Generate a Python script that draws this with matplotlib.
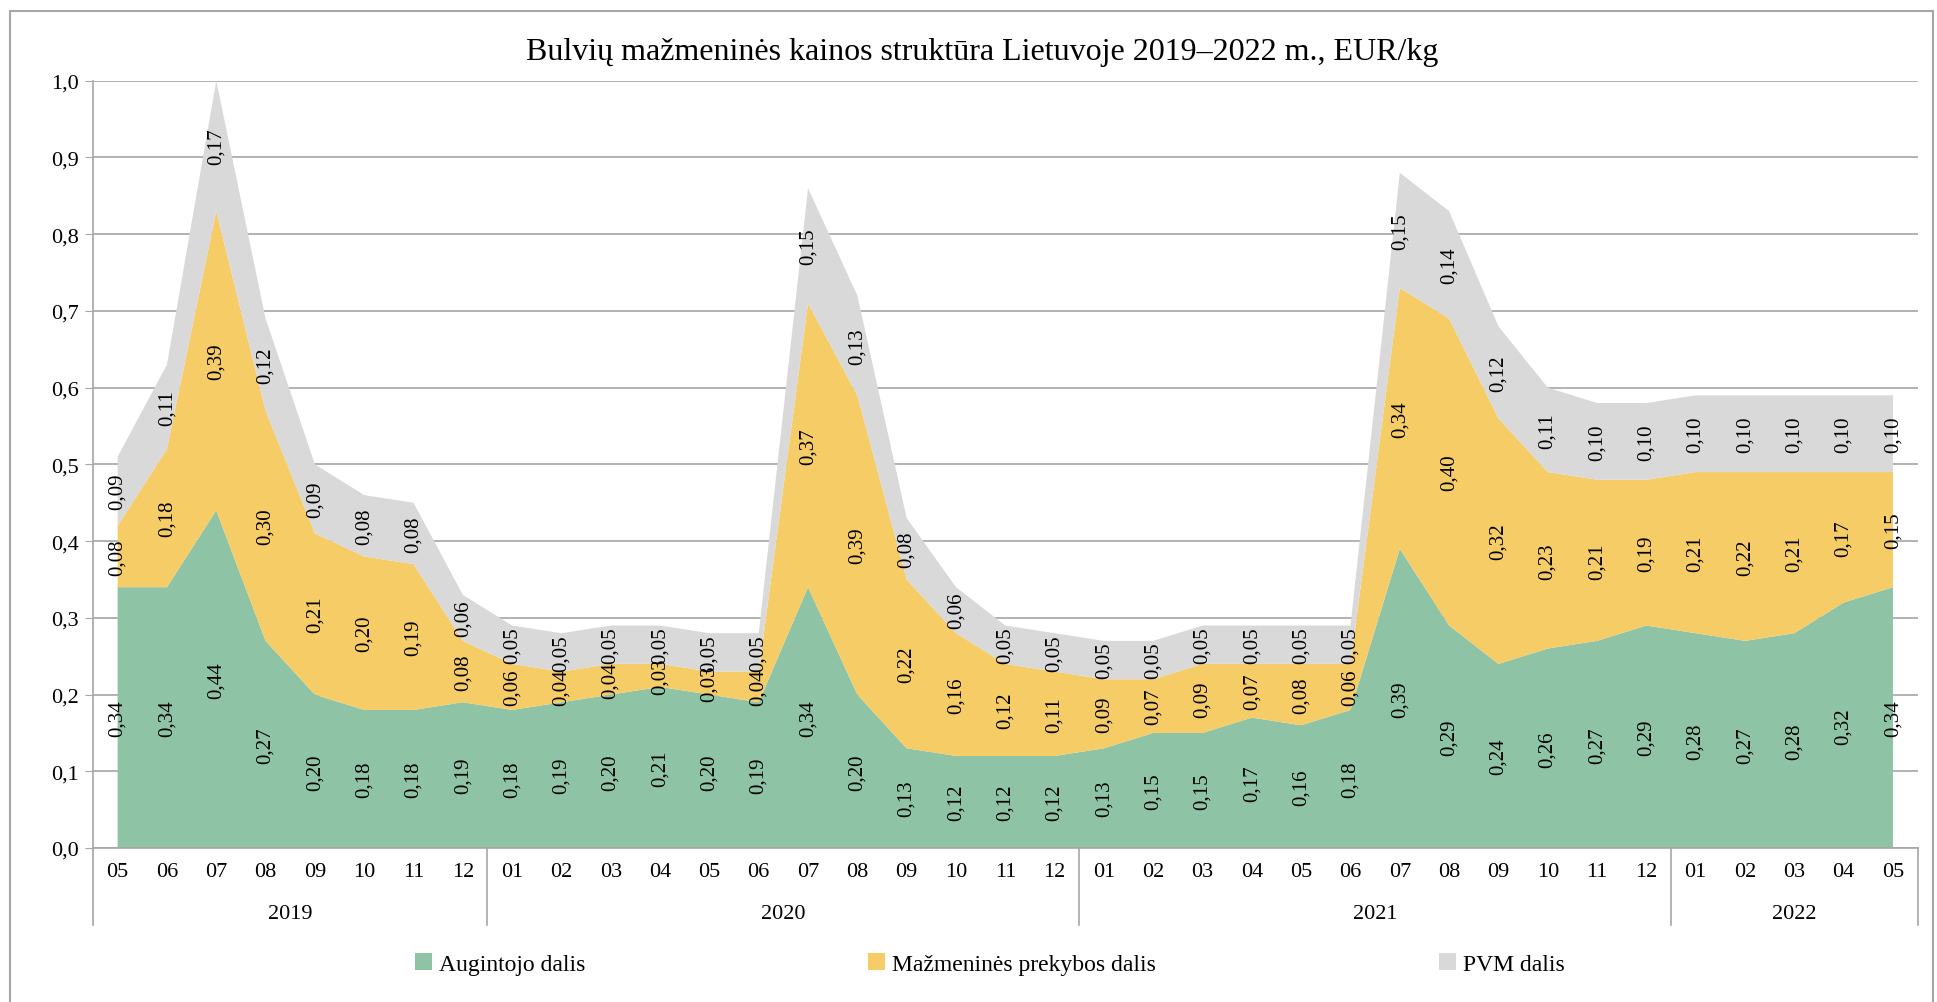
import numpy as np
import matplotlib
matplotlib.use("Agg")
import matplotlib.pyplot as plt
from matplotlib.patches import Rectangle, Patch
import matplotlib.transforms as mtransforms

plt.rcParams['font.family'] = ['Liberation Serif', 'DejaVu Serif']

# data
months = ["05", "06", "07", "08", "09", "10", "11", "12",
          "01", "02", "03", "04", "05", "06", "07", "08", "09", "10", "11", "12",
          "01", "02", "03", "04", "05", "06", "07", "08", "09", "10", "11", "12",
          "01", "02", "03", "04", "05"]
years = ["2019", "2020", "2021", "2022"]
year_counts = [8, 12, 12, 5]

augintojo = [0.34, 0.34, 0.44, 0.27, 0.20, 0.18, 0.18, 0.19,
             0.18, 0.19, 0.20, 0.21, 0.20, 0.19, 0.34, 0.20, 0.13, 0.12, 0.12, 0.12,
             0.13, 0.15, 0.15, 0.17, 0.16, 0.18, 0.39, 0.29, 0.24, 0.26, 0.27, 0.29,
             0.28, 0.27, 0.28, 0.32, 0.34]
prekybos = [0.08, 0.18, 0.39, 0.30, 0.21, 0.20, 0.19, 0.08,
            0.06, 0.04, 0.04, 0.03, 0.03, 0.04, 0.37, 0.39, 0.22, 0.16, 0.12, 0.11,
            0.09, 0.07, 0.09, 0.07, 0.08, 0.06, 0.34, 0.40, 0.32, 0.23, 0.21, 0.19,
            0.21, 0.22, 0.21, 0.17, 0.15]
pvm = [0.09, 0.11, 0.17, 0.12, 0.09, 0.08, 0.08, 0.06,
       0.05, 0.05, 0.05, 0.05, 0.05, 0.05, 0.15, 0.13, 0.08, 0.06, 0.05, 0.05,
       0.05, 0.05, 0.05, 0.05, 0.05, 0.05, 0.15, 0.14, 0.12, 0.11, 0.10, 0.10,
       0.10, 0.10, 0.10, 0.10, 0.10]

names = ["Augintojo dalis", "Mažmeninės prekybos dalis", "PVM dalis"]
colors = ["#8FC3A6", "#F5CC66", "#D9D9D9"]

fig = plt.figure(figsize=(19.37, 10.03), dpi=100)
ax = fig.add_axes([0.048, 0.1535, 0.942, 0.765])

x = np.arange(len(months))
series = [np.array(augintojo), np.array(prekybos), np.array(pvm)]
ax.stackplot(x, *series, colors=colors, linewidth=0, zorder=2)

# data labels in the middle of each band
base = np.zeros(len(x))
for s in series:
    for i in range(len(x)):
        ax.text(x[i], base[i] + s[i] / 2, ("%.2f" % s[i]).replace(".", ","),
                rotation=90, ha="center", va="center", fontsize=15, zorder=4)
    base = base + s

ax.set_xlim(-0.5, len(x) - 0.5)
ax.set_ylim(0, 1.0)
yt = np.arange(0, 1.01, 0.1)
ax.set_yticks(yt)
ax.set_yticklabels([("%.1f" % v).replace(".", ",") for v in yt], fontsize=16)
ax.yaxis.grid(True, color="#A6A6A6", linewidth=1.2, zorder=1)
ax.set_axisbelow(True)
ax.tick_params(axis="y", length=6, color="#A6A6A6", pad=4)

ax.set_xticks(x)
ax.set_xticklabels(months, fontsize=16)
ax.tick_params(axis="x", length=0, pad=10)

for sp in ["top", "right"]:
    ax.spines[sp].set_visible(False)
ax.spines["left"].set_color("#A6A6A6")
ax.spines["bottom"].set_color("#A6A6A6")
ax.spines["left"].set_linewidth(1.2)
ax.spines["bottom"].set_linewidth(1.2)

# year grouping below month labels
trans = mtransforms.blended_transform_factory(ax.transData, ax.transAxes)
edges = np.concatenate([[0], np.cumsum(year_counts)]) - 0.5
for e in edges:
    ax.plot([e, e], [0, -0.1], transform=trans, color="#A6A6A6", lw=1.2, clip_on=False)
for i, y in enumerate(years):
    c = (edges[i] + edges[i + 1]) / 2
    ax.text(c, -0.085, y, transform=trans, ha="center", va="center", fontsize=16)

fig.text(0.507, 0.948, "Bulvių mažmeninės kainos struktūra Lietuvoje 2019–2022 m., EUR/kg",
         ha="center", va="center", fontsize=23)

handles = [Patch(facecolor=c, edgecolor="none") for c in colors]
fig.legend(handles, names, loc="center", bbox_to_anchor=(0.511, 0.038), ncol=3,
           frameon=False, fontsize=17, handlelength=0.7, handleheight=0.7,
           handletextpad=0.3, columnspacing=12)

fig.patches.append(Rectangle((10 / 1937, -0.05), 1923 / 1937, 1.05 - 12 / 1003,
                             transform=fig.transFigure, fill=False,
                             edgecolor="#A6A6A6", linewidth=1.5))

fig.savefig("out.png", dpi=100)
